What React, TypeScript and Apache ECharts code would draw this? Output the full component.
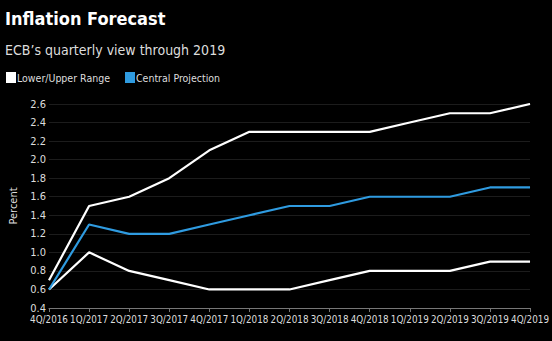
import React, { useEffect, useRef } from "react";
import * as echarts from "echarts";

const categories = ["4Q/2016", "1Q/2017", "2Q/2017", "3Q/2017", "4Q/2017", "1Q/2018", "2Q/2018", "3Q/2018", "4Q/2018", "1Q/2019", "2Q/2019", "3Q/2019", "4Q/2019"];
const upper = [0.7, 1.5, 1.6, 1.8, 2.1, 2.3, 2.3, 2.3, 2.3, 2.4, 2.5, 2.5, 2.6];
const central = [0.6, 1.3, 1.2, 1.2, 1.3, 1.4, 1.5, 1.5, 1.6, 1.6, 1.6, 1.7, 1.7];
const lower = [0.6, 1.0, 0.8, 0.7, 0.6, 0.6, 0.6, 0.7, 0.8, 0.8, 0.8, 0.9, 0.9];

const FONT = "'DejaVu Sans Condensed', 'DejaVu Sans', sans-serif";

export default function App() {
  const ref = useRef<HTMLDivElement>(null);
  useEffect(() => {
    const chart = echarts.init(ref.current!, null, { renderer: "svg" });
    chart.setOption({
      animation: false,
      backgroundColor: "#000",
      title: [
        { text: "Inflation Forecast", left: 0, top: 4, textStyle: { color: "#fff", fontFamily: FONT, fontWeight: "bold", fontSize: 18 } },
        { text: "ECB\u2019s quarterly view through 2019", left: 0, top: 38, textStyle: { color: "#ddd", fontFamily: FONT, fontWeight: "normal", fontSize: 14 } },
      ],
      legend: {
        left: 1,
        top: 67,
        itemWidth: 10,
        itemHeight: 11,
        itemGap: 15,
        icon: "rect",
        textStyle: { color: "#ddd", fontFamily: FONT, fontSize: 10.5, padding: [0, 0, 0, -4] },
        data: [
          { name: "Lower/Upper Range", itemStyle: { color: "#fff" } },
          { name: "Central Projection", itemStyle: { color: "#2f9be0" } },
        ],
      },
      grid: { left: 32, right: 20, top: 104, bottom: 33 },
      xAxis: {
        type: "category",
        boundaryGap: false,
        data: categories,
        axisLine: { lineStyle: { color: "#777" } },
        axisTick: { show: true, length: 4, lineStyle: { color: "#777" } },
        axisLabel: { color: "#ddd", fontFamily: FONT, fontSize: 9.8, margin: 6, interval: 0 },
      },
      yAxis: {
        type: "value",
        min: 0.4,
        max: 2.6,
        interval: 0.2,
        name: "Percent",
        nameLocation: "middle",
        nameGap: 30,
        nameTextStyle: { color: "#ddd", fontFamily: FONT, fontSize: 11 },
        axisLine: { show: false },
        axisTick: { show: false },
        axisLabel: { color: "#ddd", fontFamily: FONT, fontSize: 11, margin: 3, formatter: (v: number) => v.toFixed(1) },
        splitLine: { lineStyle: { color: "#1c1c1c" } },
      },
      series: [
        { name: "Lower/Upper Range", type: "line", data: upper, symbol: "none", lineStyle: { color: "#fff", width: 2.2 }, itemStyle: { color: "#fff" } },
        { name: "Lower/Upper Range", type: "line", data: lower, symbol: "none", lineStyle: { color: "#fff", width: 2.2 }, itemStyle: { color: "#fff" } },
        { name: "Central Projection", type: "line", data: central, symbol: "none", lineStyle: { color: "#2f9be0", width: 2.2 }, itemStyle: { color: "#2f9be0" } },
      ],
    });
    return () => chart.dispose();
  }, []);
  return <div ref={ref} style={{ width: 552, height: 341, position: "absolute", left: 0, top: 0 }} />;
}
